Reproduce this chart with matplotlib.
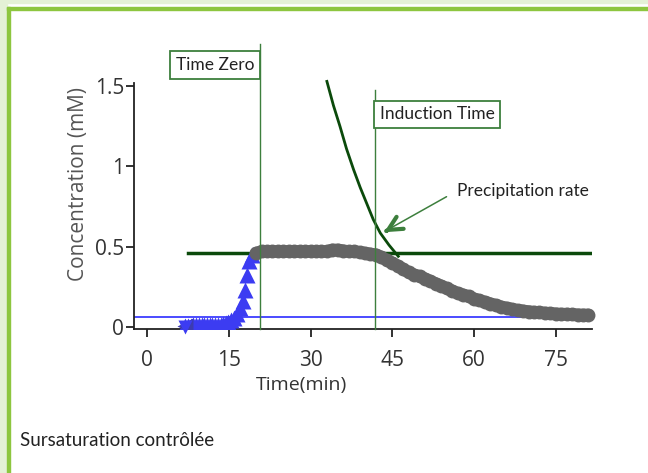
import matplotlib.pyplot as plt
from matplotlib.patches import Rectangle

# data
blue_x = [7.0, 7.5, 8.0, 8.5, 9.0, 9.5, 10.0, 10.5, 11.0, 11.5, 12.0, 12.5, 13.0, 13.5, 14.0,
          14.5, 14.9, 15.4, 15.9, 16.5, 17.1, 17.6, 18.0, 18.4, 18.7, 19.3]
blue_y = [0.005, 0.008, 0.008, 0.01, 0.01, 0.01, 0.01, 0.01, 0.01, 0.01, 0.012, 0.012, 0.015, 0.015, 0.018,
          0.022, 0.033, 0.042, 0.054, 0.08, 0.117, 0.16, 0.23, 0.325, 0.41, 0.45]

gray_x = list(range(20, 82))
gray_y = [0.46, 0.47, 0.47, 0.47, 0.47, 0.47, 0.47, 0.47, 0.47, 0.47,
          0.47, 0.47, 0.47, 0.47, 0.48, 0.48, 0.475, 0.47, 0.47, 0.465,
          0.46, 0.455, 0.45, 0.435, 0.415, 0.40, 0.38, 0.36, 0.34, 0.325,
          0.315, 0.30, 0.285, 0.27, 0.255, 0.24, 0.225, 0.21, 0.20, 0.19,
          0.175, 0.165, 0.155, 0.145, 0.135, 0.125, 0.118, 0.11, 0.104, 0.10,
          0.096, 0.092, 0.09, 0.087, 0.085, 0.082, 0.08, 0.08, 0.078, 0.076,
          0.075, 0.075]

rate_x = [33.0, 34.2, 35.4, 36.6, 37.9, 39.1, 40.3, 41.5, 42.8, 44.4, 46.1]
rate_y = [1.53, 1.38, 1.25, 1.11, 0.98, 0.87, 0.77, 0.67, 0.585, 0.51, 0.44]

solubility = 0.06
plateau = 0.46
plateau_start = 7.6
t_zero = 20.7
t_induction = 41.8

xticks = [0, 15, 30, 45, 60, 75]
yticks = [0, 0.5, 1, 1.5]
yticklabels = ['0', '0.5', '1', '1.5']

green = '#3d7f3d'
dark_green = '#0b4a0b'

fig = plt.figure(figsize=(6.48, 4.73), dpi=100)

# frame around the picture
fig.add_artist(Rectangle((0, 0), 7 / 648, 1, transform=fig.transFigure, color='#e4f1d6', zorder=0))
fig.add_artist(Rectangle((0, 1 - 3 / 473), 1, 3 / 473, transform=fig.transFigure, color='#e4f1d6', zorder=0))
fig.add_artist(Rectangle((7 / 648, 0), 3 / 648, 1 - 7 / 473, transform=fig.transFigure, color='#8dc63f', zorder=1))
fig.add_artist(Rectangle((7 / 648, 1 - 10 / 473), 1, 3 / 473, transform=fig.transFigure, color='#8dc63f', zorder=1))

ax = fig.add_axes([134 / 648, 1 - 329 / 473, 458 / 648, 246 / 473])
ax.set_xlim(-2.4, 81.65)
ax.set_ylim(-0.013, 1.52)

ax.axhline(solubility, color='#1a1aff', lw=1.1, zorder=2)
ax.plot([plateau_start, 81.3], [plateau, plateau], color=dark_green, lw=2.5, zorder=2)

ax.plot(blue_x, blue_y, ls='none', marker='^', ms=11, color='#3c3cf2', mec='none', zorder=3)
ax.plot([7.0], [0.005], ls='none', marker='<', ms=11, color='#3c3cb0', mec='none', zorder=3)
ax.plot([7.0], [0.0], ls='none', marker='v', ms=10, color='#3c3cf2', mec='none', zorder=3, clip_on=False)

ax.plot(gray_x, gray_y, ls='-', lw=9, marker='o', ms=10, color='#646464', mec='none',
        solid_capstyle='round', zorder=4, clip_on=False)
ax.plot(rate_x, rate_y, color=dark_green, lw=2, zorder=5, clip_on=False)

# marker lines
ax.plot([t_zero, t_zero], [-0.013, 1.76], color=green, lw=1, zorder=6, clip_on=False)
ax.plot([t_induction, t_induction], [-0.013, 1.475], color=green, lw=1, zorder=6, clip_on=False)

box = dict(boxstyle='square,pad=0.33', fc='white', ec=green, lw=1.3)
ax.text(12.5, 1.633, 'Time Zero', ha='center', va='center', fontsize=12.5, family='Lato',
        color='#222222', bbox=box, zorder=7)
ax.text(53.2, 1.325, 'Induction Time', ha='center', va='center', fontsize=12.5, family='Lato',
        color='#222222', bbox=box, zorder=7)

# arrow: thin shaft, thick open head
ax.annotate('', xy=(43.6, 0.595), xytext=(55.4, 0.82),
            arrowprops=dict(arrowstyle='-', color=green, lw=1.1), zorder=7)
ax.annotate('', xy=(43.5, 0.59), xytext=(43.9, 0.598),
            arrowprops=dict(arrowstyle='->,head_length=1.0,head_width=0.5', color=green, lw=3,
                            shrinkA=0, shrinkB=0), zorder=7)
ax.text(56.9, 0.848, 'Precipitation rate', ha='left', va='center', fontsize=12.5, family='Lato', color='#222222')

for s in ['top', 'right']:
    ax.spines[s].set_visible(False)
for s in ['left', 'bottom']:
    ax.spines[s].set_color('#222222')
    ax.spines[s].set_linewidth(1.3)

ax.set_xticks(xticks)
ax.set_yticks(yticks)
ax.set_yticklabels(yticklabels)
ax.tick_params(direction='out', length=6, width=1.3, color='#222222', labelsize=15, labelcolor='#333333')
ax.tick_params(axis='x', pad=9)
ax.tick_params(axis='y', pad=1)
for lab in ax.get_xticklabels() + ax.get_yticklabels():
    lab.set_family('Open Sans')

ax.set_xlabel('Time(min)', fontsize=14, family='Open Sans', color='#333333')
ax.xaxis.set_label_coords(0.365, -0.19)
ax.set_ylabel('Concentration (mM)', fontsize=15, family='Open Sans', color='#555555')
ax.yaxis.set_label_coords(-0.098, 0.59)

fig.text(20 / 648, 1 - 440 / 473, 'Sursaturation contrôlée', fontsize=13.5, family='Lato',
         color='#222222', ha='left', va='center')

fig.savefig('out.png', dpi=100)
